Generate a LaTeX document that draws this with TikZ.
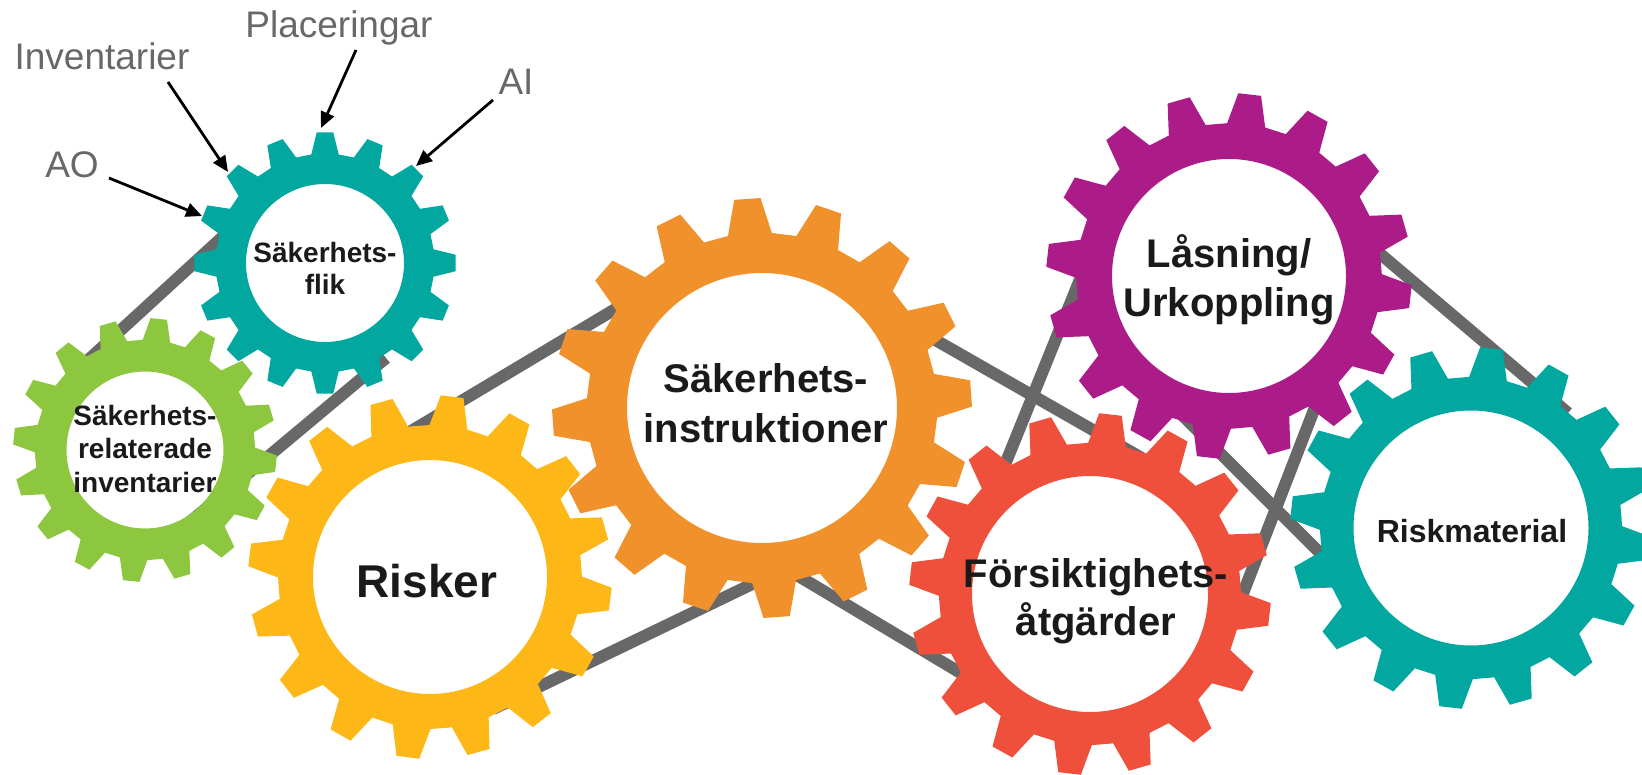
\documentclass[tikz,border=0pt]{standalone}
\usepackage{fontspec}
\setmainfont{Liberation Sans}
\usetikzlibrary{arrows.meta}
\definecolor{gteal}{HTML}{02A8A0}
\definecolor{ggreen}{HTML}{8DC63F}
\definecolor{gyellow}{HTML}{FDB817}
\definecolor{gorange}{HTML}{F0912B}
\definecolor{gpurple}{HTML}{AB1C88}
\definecolor{gred}{HTML}{EF503B}
\definecolor{beltgray}{HTML}{686868}
\definecolor{annotgray}{HTML}{686868}
\definecolor{labelblack}{HTML}{1A1A1A}
% #1 cx, #2 cy, #3 tip radius, #4 hole radius, #5 phase (deg), #6 colour
\newcommand{\drawgear}[6]{%
  \fill[#6, even odd rule, shift={(#1,#2)}]
    ({-(#5)-7.2}:{0.835*#3})
    \foreach \k in {0,...,15}{
      -- ({22.5*\k-(#5)-7.2}:{0.835*#3})
      -- ({22.5*\k-(#5)-3.6}:{#3})
      -- ({22.5*\k-(#5)+3.6}:{#3})
      -- ({22.5*\k-(#5)+7.2}:{0.835*#3})
    } -- cycle
    (0,0) circle[radius=#4pt];
}
\tikzset{
  belt/.style={draw=beltgray, line width=12pt},
  annot/.style={text=annotgray, inner sep=0pt, anchor=base, font=\fontsize{37}{44}\selectfont},
  glabel/.style={text=labelblack, inner sep=0pt, anchor=base},
  arr/.style={draw=black, line width=2.8pt, -{Triangle[length=16pt,width=14pt]}},
}
\begin{document}
\begin{tikzpicture}[x=1pt,y=-1pt]
\useasboundingbox (0,0) rectangle (1642,775);
\clip (0,0) rectangle (1642,775);
% belt lines
\coordinate (l1a) at (74,373);   \coordinate (l1b) at (265,198);
\coordinate (l2a) at (179,531);  \coordinate (l2b) at (386,358);
\coordinate (ua)  at (361,461);  \coordinate (ub)  at (679,271);
\coordinate (loa) at (493,709);  \coordinate (lob) at (829,547);
\coordinate (ora) at (834,282);  \coordinate (orb) at (1161,469);
\coordinate (orc) at (790,571);  \coordinate (ord) at (1021,709);
\coordinate (p1a) at (1102,225); \coordinate (p1b) at (972,546);
\coordinate (p2a) at (1348,322); \coordinate (p2b) at (1223,645);
\coordinate (e1a) at (1365,241); \coordinate (e1b) at (1568,413);
\coordinate (e2a) at (1136,369); \coordinate (e2b) at (1383,616);
\draw[belt] (l1a) -- (l1b);
\draw[belt] (l2a) -- (l2b);
\draw[belt] (ua) -- (ub);
\draw[belt] (loa) -- (lob);
\draw[belt] (ora) -- (orb);
\draw[belt] (orc) -- (ord);
\draw[belt] (p1a) -- (p1b);
\draw[belt] (p2a) -- (p2b);
\draw[belt] (e1a) -- (e1b);
\draw[belt] (e2a) -- (e2b);
% gears
\drawgear{145}{450}{132}{78.5}{16.5}{ggreen}
\drawgear{325}{263}{131}{79}{0}{gteal}
\drawgear{430}{577}{182}{117}{15.5}{gyellow}
\drawgear{762}{408}{210}{135}{4}{gorange}
\drawgear{1090}{594}{181}{118}{16}{gred}
\drawgear{1229}{276}{183}{117}{16}{gpurple}
\drawgear{1471}{528}{181}{117.5}{16}{gteal}
% gear labels
\begin{scope}[every node/.style={glabel}]
\node[font=\bfseries\fontsize{28}{32}\selectfont] (fl1) at (325,263) {Säkerhets-};
\node[font=\bfseries\fontsize{28}{32}\selectfont] (fl2) at (325,295) {flik};
\node[font=\bfseries\fontsize{28}{32}\selectfont] (gr1) at (145,426) {Säkerhets-};
\node[font=\bfseries\fontsize{28}{32}\selectfont] (gr2) at (145,459) {relaterade};
\node[font=\bfseries\fontsize{28}{32}\selectfont] (gr3) at (145,493) {inventarier};
\node[font=\bfseries\fontsize{46}{52}\selectfont] (ri) at (427,597) {Risker};
\node[font=\bfseries\fontsize{40}{48}\selectfont] (si1) at (766,393) {Säkerhets-};
\node[font=\bfseries\fontsize{40}{48}\selectfont] (si2) at (766,443) {instruktioner};
\node[font=\bfseries\fontsize{40}{48}\selectfont] (la1) at (1229,268) {Låsning/};
\node[font=\bfseries\fontsize{40}{48}\selectfont] (la2) at (1229,317) {Urkoppling};
\node[font=\bfseries\fontsize{40}{48}\selectfont] (fo1) at (1096,587) {Försiktighets-};
\node[font=\bfseries\fontsize{40}{48}\selectfont] (fo2) at (1096,635) {åtgärder};
\node[font=\bfseries\fontsize{32}{38}\selectfont] (rm) at (1472,542) {Riskmaterial};
\end{scope}
% annotations
\node[annot] (ao) at (72,178) {AO};
\node[annot] (inv) at (102,70) {Inventarier};
\node[annot] (pla) at (339,38) {Placeringar};
\node[annot] (ai) at (516,95) {AI};
\coordinate (aoS) at (109,178);  \coordinate (aoE) at (202,216);
\coordinate (invS) at (168,82);  \coordinate (invE) at (228,172);
\coordinate (plaS) at (356,50);  \coordinate (plaE) at (321,128);
\coordinate (aiS) at (493,100);  \coordinate (aiE) at (416,166);
\draw[arr] (aoS) -- (aoE);
\draw[arr] (invS) -- (invE);
\draw[arr] (plaS) -- (plaE);
\draw[arr] (aiS) -- (aiE);
\end{tikzpicture}
\end{document}
